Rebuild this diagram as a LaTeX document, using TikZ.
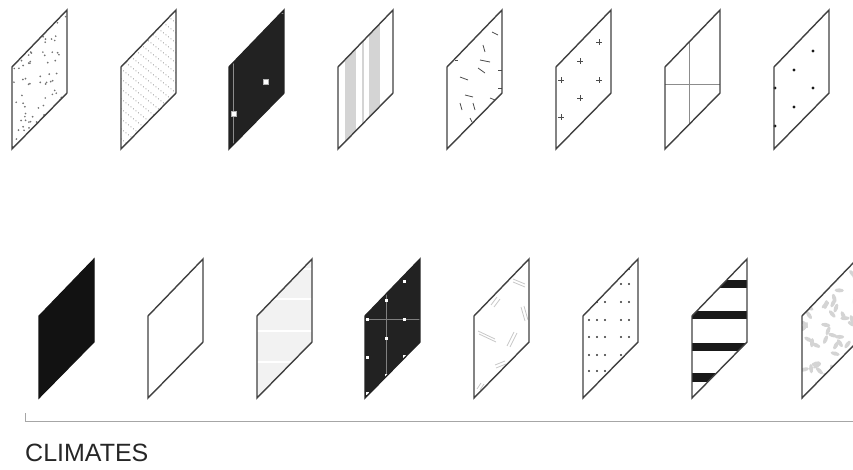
\documentclass[tikz,border=0pt]{standalone}
\usepackage{fontspec}
\setmainfont{Liberation Sans}
\usepackage{xcolor}
\usepackage{tikz}

\definecolor{tileink}{HTML}{222222}
\definecolor{softgray}{HTML}{D4D4D4}
\newcommand{\tileshape}{(0,0) -- (0,82) -- (55,139) -- (55,56) -- cycle}

\begin{document}
\begin{tikzpicture}[x=1pt,y=1pt,
  edge/.style={draw=black!75,line width=1.4pt,line join=miter},
  speck/.style={fill=black!55},
  flake/.style={draw=black!70,line width=0.8pt},
  twin/.style={draw=black!22,line width=0.8pt},
  crossline/.style={draw=black!45,line width=0.6pt},
  label/.style={font=\fontsize{25}{30}\selectfont,text=black!85,inner sep=0pt}]

  \clip (0,0) rectangle (853,469);

  % ---- upper row ----
  \begin{scope}[shift={(12,320)}]
    \begin{scope}
      \clip \tileshape;
      \pgfmathsetseed{11}
      \foreach \k in {1,...,100}{
        \pgfmathsetmacro\px{rnd*55}
        \pgfmathsetmacro\py{rnd*139}
        \fill[speck] (\px,\py) circle (0.95);
      }
    \end{scope}
    \draw[edge] \tileshape;
  \end{scope}

  \begin{scope}[shift={(121,320)}]
    \begin{scope}
      \clip \tileshape;
      \foreach \c in {-40,-30,...,180}
        \draw[black!55,line width=1pt,line cap=round,dash pattern=on 0pt off 3.2pt] (0,\c) -- (55,\c-44);
    \end{scope}
    \draw[edge] \tileshape;
  \end{scope}

  \begin{scope}[shift={(229,320)}]
    \begin{scope}
      \clip \tileshape;
      \fill[tileink] \tileshape;
      \draw[black!45,line width=0.6pt] (4,0) -- (4,150);
      \draw[black!45,line width=0.5pt] (46,136) -- (55,136);
      \filldraw[fill=white,draw=black!30,line width=0.4pt] (34.5,64.5) rectangle ++(5,5);
      \filldraw[fill=white,draw=black!30,line width=0.4pt] (2.5,32.5) rectangle ++(5,5);
    \end{scope}
    \draw[edge,draw=tileink] \tileshape;
  \end{scope}

  \begin{scope}[shift={(338,320)}]
    \begin{scope}
      \clip \tileshape;
      \fill[softgray] (7,0) rectangle (18,150);
      \fill[softgray] (24,0) rectangle (25.5,150);
      \fill[softgray] (31,0) rectangle (42,150);
    \end{scope}
    \draw[edge] \tileshape;
  \end{scope}

  \begin{scope}[shift={(447,320)}]
    \begin{scope}
      \clip \tileshape;
      \draw[flake] (45,117) -- (51,114);
      \draw[flake] (36,104) -- (38,97);
      \draw[flake] (33,89) -- (43,87);
      \draw[flake] (31,81) -- (38,76);
      \draw[flake] (13,72) -- (21,69);
      \draw[flake] (51,79) -- (55,79);
      \draw[flake] (18,54) -- (26,52);
      \draw[flake] (13,46) -- (15,39);
      \draw[flake] (26,46) -- (28,39);
      \draw[flake] (23,31) -- (25,27);
      \draw[flake] (43,51) -- (48,49);
      \draw[flake] (51,61) -- (55,61);
      \draw[flake] (8,89) -- (11,89);
    \end{scope}
    \draw[edge] \tileshape;
  \end{scope}

  \begin{scope}[shift={(556,320)}]
    \foreach \px/\py in {43/107,24/88,5/69,43/69,24/51,5/32}
      \draw[flake] (\px-2.8,\py) -- (\px+2.8,\py) (\px,\py-2.8) -- (\px,\py+2.8);
    \draw[edge] \tileshape;
  \end{scope}

  \begin{scope}[shift={(665,320)}]
    \draw[crossline] (24,24.4) -- (24,106.9);
    \draw[crossline] (0,65) -- (55,65);
    \draw[edge] \tileshape;
  \end{scope}

  \begin{scope}[shift={(774,320)}]
    \foreach \px/\py in {39/98,20/79,1/61,39/61,20/42,1/23}
      \fill[black!90] (\px,\py) circle (1.7);
    \draw[edge] \tileshape;
  \end{scope}

  % ---- lower row ----
  \begin{scope}[shift={(39,71)}]
    \filldraw[fill=black!93,draw=black!93,line width=1.1pt] \tileshape;
  \end{scope}

  \begin{scope}[shift={(148,71)}]
    \draw[edge] \tileshape;
  \end{scope}

  \begin{scope}[shift={(257,71)}]
    \begin{scope}
      \clip \tileshape;
      \fill[black!5] \tileshape;
      \foreach \c in {129,99,67,36}
        \draw[white,line width=1.6pt] (0,\c) -- (55,\c);
    \end{scope}
    \draw[edge] \tileshape;
  \end{scope}

  \begin{scope}[shift={(365,71)}]
    \begin{scope}
      \clip \tileshape;
      \fill[tileink] \tileshape;
      \draw[black!50,line width=0.5pt] (21,0) -- (21,150);
      \draw[black!50,line width=0.5pt] (0,79) -- (55,79);
      \foreach \px/\py in {2/5,2/41,2/79,21/23,21/60,21/98,39/42,39/79,39/117}
        \fill[white] (\px-1.5,\py-1.5) rectangle ++(3,3);
    \end{scope}
    \draw[edge,draw=tileink] \tileshape;
  \end{scope}

  \begin{scope}[shift={(474,71)}]
    \begin{scope}
      \clip \tileshape;
      \draw[twin] (39,119) -- (51,114) (39,116) -- (51,111);
      \draw[twin] (17,93) -- (23,101) (20,91) -- (26,99);
      \draw[twin] (47,91) -- (51,77) (50,92) -- (54,78);
      \draw[twin] (4,67) -- (21,59) (5,64) -- (22,56);
      \draw[twin] (33,52) -- (40,66) (36,51) -- (43,65);
      \draw[twin] (21,33) -- (31,37) (22,30) -- (32,34);
      \draw[twin] (3,9) -- (7,15) (6,8) -- (10,14);
    \end{scope}
    \draw[edge] \tileshape;
  \end{scope}

  \begin{scope}[shift={(583,71)}]
    \foreach \px/\py in {46/129,38/114,46/114,14/96,22/96,38/96,46/96,
                         6/78,14/78,22/78,38/78,46/78,6/61,14/61,22/61,38/61,46/61,
                         6/43,14/43,22/43,38/43,6/27,14/27,22/27}
      \fill[black!80] (\px,\py) circle (1.2);
    \draw[edge] \tileshape;
  \end{scope}

  \begin{scope}[shift={(692,71)}]
    \begin{scope}
      \clip \tileshape;
      \foreach \lo/\hi in {110/118,79/87,47/55,16/25}
        \fill[black!90] (0,\lo) rectangle (55,\hi);
    \end{scope}
    \draw[edge] \tileshape;
  \end{scope}

  \begin{scope}[shift={(802,71)}]
    \begin{scope}
      \clip \tileshape;
      \pgfmathsetseed{5}
      \foreach \k in {1,...,55}{
        \pgfmathsetmacro\px{rnd*55}
        \pgfmathsetmacro\py{rnd*139}
        \pgfmathsetmacro\rt{rnd*180}
        \fill[black!17,rotate around={\rt:(\px,\py)}] (\px,\py) ellipse (4.6 and 2);
      }
    \end{scope}
    \draw[edge] \tileshape;
  \end{scope}

  % bracket and caption
  \coordinate (brk) at (25,56);
  \coordinate (brkend) at (853,48);
  \draw[black!35,line width=0.8pt] (brk) |- (brkend);
  \node[label,anchor=base west] (climates) at (25,8) {CLIMATES};

\end{tikzpicture}
\end{document}
